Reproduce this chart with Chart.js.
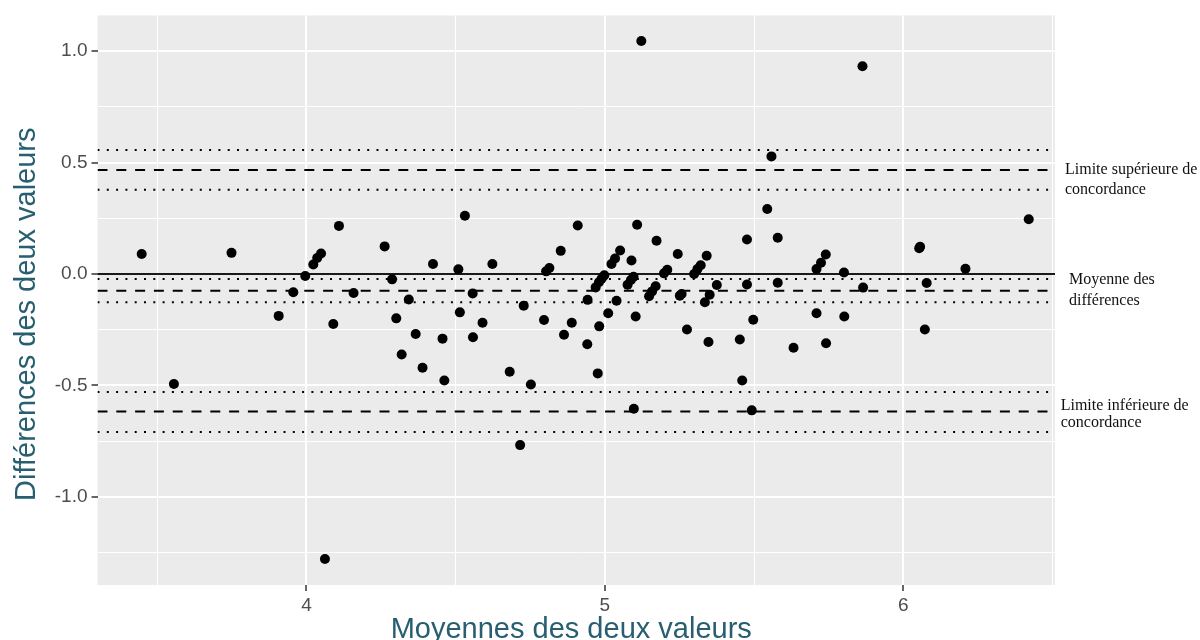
<!DOCTYPE html>
<html lang="fr">
<head>
<meta charset="utf-8">
<title>Diagramme de Bland-Altman</title>
<script src="https://cdn.jsdelivr.net/npm/chart.js@4.4.1/dist/chart.umd.min.js"></script>
<style>
  html, body { margin: 0; padding: 0; background: #fff; }
  canvas { display: block; }
</style>
</head>
<body>
<canvas id="baChart" width="1200" height="640"></canvas>
<script>
// Moyennes des deux valeurs (axe x) et différences (axe y)
const moyennes = [
    3.448, 3.556, 3.749, 3.907, 3.956, 3.996, 4.023, 4.036, 4.049, 4.062,
    4.090, 4.109, 4.158, 4.262, 4.287, 4.301, 4.319, 4.343, 4.366, 4.389,
    4.424, 4.456, 4.462, 4.509, 4.514, 4.531, 4.557, 4.558, 4.590, 4.623,
    4.681, 4.716, 4.728, 4.752, 4.796, 4.803, 4.814, 4.852, 4.863, 4.889,
    4.909, 4.941, 4.942, 4.969, 4.976, 4.980, 4.981, 4.989, 4.998, 5.011,
    5.022, 5.034, 5.039, 5.051, 5.076, 5.087, 5.089, 5.096, 5.097, 5.103,
    5.108, 5.122, 5.148, 5.158, 5.170, 5.173, 5.198, 5.209, 5.244, 5.251,
    5.257, 5.275, 5.299, 5.310, 5.321, 5.335, 5.341, 5.347, 5.351, 5.375,
    5.452, 5.460, 5.476, 5.476, 5.492, 5.497, 5.544, 5.558, 5.579, 5.579,
    5.632, 5.709, 5.709, 5.724, 5.740, 5.741, 5.801, 5.802, 5.863, 5.865,
    6.053, 6.056, 6.072, 6.078, 6.208, 6.420
];
const differences = [
    0.090, -0.494, 0.095, -0.188, -0.082, -0.009, 0.043, 0.072, 0.092, -1.279,
    -0.224, 0.216, -0.085, 0.124, -0.024, -0.199, -0.361, -0.114, -0.269, -0.421,
    0.045, -0.290, -0.478, 0.021, -0.172, 0.262, -0.087, -0.284, -0.219, 0.045,
    -0.439, -0.768, -0.142, -0.496, -0.206, 0.012, 0.027, 0.104, -0.273, -0.219,
    0.218, -0.315, -0.116, -0.060, -0.446, -0.037, -0.235, -0.021, -0.006, -0.176,
    0.045, 0.070, -0.120, 0.106, -0.048, -0.027, 0.061, -0.012, -0.605, -0.191,
    0.221, 1.046, -0.100, -0.078, -0.055, 0.149, 0.003, 0.019, 0.090, -0.097,
    -0.090, -0.249, 0.000, 0.022, 0.039, -0.127, 0.082, -0.305, -0.093, -0.049,
    -0.294, -0.478, 0.155, -0.047, -0.612, -0.205, 0.292, 0.528, 0.163, -0.039,
    -0.331, 0.022, -0.176, 0.051, 0.088, -0.311, 0.007, -0.191, 0.933, -0.061,
    0.116, 0.122, -0.249, -0.040, 0.024, 0.246
];

// Moyenne des différences, limites de concordance et leurs intervalles de confiance
const moyenneDiff = -0.075;
const limiteSup = 0.467;
const limiteInf = -0.617;
const icMoyenne = [-0.022, -0.127];
const icSup = [0.557, 0.378];
const icInf = [-0.530, -0.709];

// Graduations
const xTicksMajeurs = [4, 5, 6];
const xTicksMineurs = [3.5, 4.5, 5.5, 6.5];
const yTicksMajeurs = [-1.0, -0.5, 0.0, 0.5, 1.0];
const yTicksMineurs = [-1.25, -0.75, -0.25, 0.25, 0.75];
const xLimites = [3.30, 6.508];
const yLimites = [-1.396, 1.161];

const titreX = 'Moyennes des deux valeurs';
const titreY = 'Différences des deux valeurs';
const etiquettes = [
    { texte: ['Limite supérieure de', 'concordance'], ancre: limiteSup, dx: 10, dy: [4.5, 24.3] },
    { texte: ['Moyenne des', 'différences'], ancre: moyenneDiff, dx: 14, dy: [-6.7, 14.5] },
    { texte: ['Limite inférieure de', 'concordance'], ancre: limiteInf, dx: 5.7, dy: [-1.7, 15.7] }
];

function ligneH(y, style) {
    const dashes = { solide: [], tirets: [10, 8.8], points: [2, 7.3] };
    return {
        type: 'line',
        data: [{ x: xLimites[0], y: y }, { x: xLimites[1], y: y }],
        borderColor: style === 'solide' ? '#1a1a1a' : '#000',
        borderWidth: 2,
        borderDash: dashes[style],
        borderCapStyle: 'butt',
        pointRadius: 0,
        fill: false,
        order: 2
    };
}

const fondPanneau = {
    id: 'fondPanneau',
    beforeDraw(chart) {
        const { ctx, chartArea: a } = chart;
        ctx.save();
        ctx.fillStyle = '#fff';
        ctx.fillRect(0, 0, chart.width, chart.height);
        ctx.fillStyle = '#EBEBEB';
        ctx.fillRect(a.left, a.top, a.right - a.left, a.bottom - a.top);
        ctx.restore();
    }
};

const textes = {
    id: 'textes',
    afterDraw(chart) {
        const { ctx, chartArea: a } = chart;
        const y = chart.scales.y;
        ctx.save();
        // étiquettes à droite du panneau
        ctx.fillStyle = '#111';
        ctx.font = "16px 'Liberation Serif', 'Times New Roman', serif";
        ctx.textAlign = 'left';
        ctx.textBaseline = 'alphabetic';
        etiquettes.forEach(e => {
            const py = y.getPixelForValue(e.ancre);
            e.texte.forEach((ligne, i) => ctx.fillText(ligne, a.right + e.dx, py + e.dy[i]));
        });
        // titres des axes
        ctx.fillStyle = '#275f70';
        ctx.font = "29px 'Liberation Sans', Arial, sans-serif";
        ctx.textAlign = 'center';
        ctx.fillText(titreX, (a.left + a.right) / 2 - 5, 638.3);
        ctx.translate(35, (a.top + a.bottom) / 2 + 14);
        ctx.rotate(-Math.PI / 2);
        ctx.fillText(titreY, 0, 0);
        ctx.restore();
    }
};

function grille(majeurs) {
    return {
        color: '#fff',
        lineWidth: c => (c.tick && majeurs.includes(c.tick.value)) ? 2 : 1,
        tickLength: 6,
        tickWidth: 1.5,
        tickColor: c => (c.tick && majeurs.includes(c.tick.value)) ? '#333' : 'rgba(0,0,0,0)'
    };
}

new Chart(document.getElementById('baChart'), {
    type: 'scatter',
    data: {
        datasets: [
            {
                data: moyennes.map((x, i) => ({ x: x, y: differences[i] })),
                pointRadius: 5,
                pointBackgroundColor: '#000',
                pointBorderWidth: 0,
                order: 0
            },
            ligneH(0, 'solide'),
            ligneH(limiteSup, 'tirets'),
            ligneH(moyenneDiff, 'tirets'),
            ligneH(limiteInf, 'tirets'),
            ...icSup.map(v => ligneH(v, 'points')),
            ...icMoyenne.map(v => ligneH(v, 'points')),
            ...icInf.map(v => ligneH(v, 'points'))
        ]
    },
    options: {
        responsive: false,
        devicePixelRatio: 1,
        animation: false,
        layout: { padding: { top: 14, right: 145, left: 0, bottom: 0 } },
        plugins: { legend: { display: false }, tooltip: { enabled: false } },
        scales: {
            x: {
                type: 'linear',
                min: xLimites[0],
                max: xLimites[1],
                border: { display: false },
                grid: grille(xTicksMajeurs),
                afterBuildTicks: s => { s.ticks = [...xTicksMineurs, ...xTicksMajeurs].sort((a, b) => a - b).map(v => ({ value: v })); },
                afterFit: s => { s.height = 55; },
                ticks: {
                    autoSkip: false,
                    maxRotation: 0,
                    padding: 3,
                    color: '#4d4d4d',
                    font: { family: "'Liberation Sans', Arial, sans-serif", size: 19 },
                    callback: v => xTicksMajeurs.includes(v) ? String(v) : ''
                }
            },
            y: {
                type: 'linear',
                min: yLimites[0],
                max: yLimites[1],
                border: { display: false },
                grid: grille(yTicksMajeurs),
                afterBuildTicks: s => { s.ticks = [...yTicksMineurs, ...yTicksMajeurs].sort((a, b) => a - b).map(v => ({ value: v })); },
                afterFit: s => { s.width = 97.5; },
                ticks: {
                    autoSkip: false,
                    padding: 4,
                    color: '#4d4d4d',
                    font: { family: "'Liberation Sans', Arial, sans-serif", size: 19 },
                    callback: v => yTicksMajeurs.includes(v) ? v.toFixed(1) : ''
                }
            }
        }
    },
    plugins: [fondPanneau, textes]
});
</script>
</body>
</html>
